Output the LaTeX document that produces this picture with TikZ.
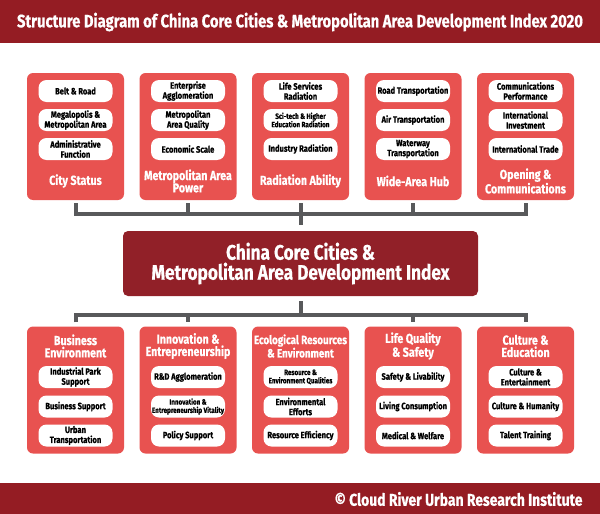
\documentclass[tikz,border=0pt]{standalone}
\usepackage{fontspec}
\setmainfont{Fira Sans}[FakeStretch=0.82, BoldFeatures={FakeBold=0.6}]
\usepackage{tikz}
\definecolor{bannerred}{RGB}{148,28,35}
\definecolor{corered}{RGB}{145,32,40}
\definecolor{boxred}{RGB}{232,82,80}
\definecolor{linkgray}{RGB}{88,89,91}
\tikzset{
  group/.style={rectangle, fill=boxred, minimum width=97pt, minimum height=127pt,
    rounded corners=6pt, inner sep=0pt},
  grouptitle/.style={text=white, align=center, inner sep=0pt,
    font=\bfseries\fontsize{13}{12.3}\selectfont},
  item/.style={rectangle, fill=white, minimum width=74pt, minimum height=22pt,
    rounded corners=8pt, align=center, inner sep=0pt,
    font=\bfseries\fontsize{9.2}{10}\selectfont},
  smallitem/.style={item, font=\bfseries\fontsize{7.7}{8.3}\selectfont},
  link/.style={draw=linkgray, line width=4pt}
}

\begin{document}
\begin{tikzpicture}[x=1pt, y=-1pt]
  \useasboundingbox (0,0) rectangle (600,514);

  % Header and footer bands
  \fill[bannerred] (0,0) rectangle (600,43);
  \node[text=white, font=\bfseries\fontsize{18}{18}\selectfont] (title) at (300,22)
    {Structure Diagram of China Core Cities \& Metropolitan Area Development Index 2020};
  \fill[bannerred] (0,483) rectangle (600,514);
  \node[text=white, anchor=east, font=\bfseries\fontsize{17}{17}\selectfont] (footer) at (586,499)
    {© Cloud River Urban Research Institute};

  % Central index
  \node[fill=corered, rounded corners=5pt, minimum width=355pt, minimum height=65pt,
    align=center, text=white, font=\bfseries\fontsize{21}{20}\selectfont] (core) at (300.5,263.5)
    {China Core Cities \&\\Metropolitan Area Development Index};

  % Upper groups
  \node[group] (status) at (75.5,136.5) {};
  \node[grouptitle] at (75.5,181) {City Status};
  \node[item] (status1) at (75.5,91) {Belt \& Road};
  \node[item] (status2) at (75.5,120) {Megalopolis \&\\Metropolitan Area};
  \node[item] (status3) at (75.5,149) {Administrative\\Function};

  \node[group] (power) at (188,136.5) {};
  \node[grouptitle] at (188,181) {Metropolitan Area\\Power};
  \node[item] (power1) at (188,91) {Enterprise\\Agglomeration};
  \node[item] (power2) at (188,120) {Metropolitan\\Area Quality};
  \node[item] (power3) at (188,149) {Economic Scale};

  \node[group] (radiation) at (300.5,136.5) {};
  \node[grouptitle] at (300.5,181) {Radiation Ability};
  \node[item] (radiation1) at (300.5,91) {Life Services\\Radiation};
  \node[smallitem] (radiation2) at (300.5,120) {Sci-tech \& Higher\\Education Radiation};
  \node[item] (radiation3) at (300.5,149) {Industry Radiation};

  \node[group] (hub) at (413,136.5) {};
  \node[grouptitle] at (413,181) {Wide-Area Hub};
  \node[item] (hub1) at (413,91) {Road Transportation};
  \node[item] (hub2) at (413,120) {Air Transportation};
  \node[item] (hub3) at (413,149) {Waterway\\Transportation};

  \node[group] (opening) at (525.5,136.5) {};
  \node[grouptitle] at (525.5,181) {Opening \&\\Communications};
  \node[item] (opening1) at (525.5,91) {Communications\\Performance};
  \node[item] (opening2) at (525.5,120) {International\\Investment};
  \node[item] (opening3) at (525.5,149) {International Trade};

  % Lower groups
  \node[group] (business) at (75.5,390) {};
  \node[grouptitle] at (75.5,346) {Business\\Environment};
  \node[item] (business1) at (75.5,377) {Industrial Park\\Support};
  \node[item] (business2) at (75.5,406.5) {Business Support};
  \node[item] (business3) at (75.5,435.5) {Urban\\Transportation};

  \node[group] (innovation) at (188,390) {};
  \node[grouptitle] at (188,346) {Innovation \&\\Entrepreneurship};
  \node[item] (innovation1) at (188,377) {R\&D Agglomeration};
  \node[smallitem] (innovation2) at (188,406.5) {Innovation \&\\Entrepreneurship Vitality};
  \node[item] (innovation3) at (188,435.5) {Policy Support};

  \node[group] (ecology) at (300.5,390) {};
  \node[grouptitle, font=\bfseries\fontsize{12}{12.3}\selectfont] at (300.5,346)
    {Ecological Resources\\\& Environment};
  \node[smallitem] (ecology1) at (300.5,377) {Resource \&\\Environment Qualities};
  \node[item] (ecology2) at (300.5,406.5) {Environmental\\Efforts};
  \node[item] (ecology3) at (300.5,435.5) {Resource Efficiency};

  \node[group] (life) at (413,390) {};
  \node[grouptitle] at (413,346) {Life Quality\\\& Safety};
  \node[item] (life1) at (413,377) {Safety \& Livability};
  \node[item] (life2) at (413,406.5) {Living Consumption};
  \node[item] (life3) at (413,435.5) {Medical \& Welfare};

  \node[group] (culture) at (525.5,390) {};
  \node[grouptitle] at (525.5,346) {Culture \&\\Education};
  \node[item] (culture1) at (525.5,377) {Culture \&\\Entertainment};
  \node[item] (culture2) at (525.5,406.5) {Culture \& Humanity};
  \node[item] (culture3) at (525.5,435.5) {Talent Training};

  % Upper bracket
  \coordinate (topbus) at (300.5,214);
  \draw[link, shorten <=3pt, shorten >=3pt] (status.south) -- (status.south |- topbus)
    -- (opening.south |- topbus) -- (opening.south);
  \draw[link, shorten <=3pt] (power.south) -- (power.south |- topbus);
  \draw[link, shorten <=3pt] (hub.south) -- (hub.south |- topbus);
  \draw[link, shorten <=3pt, shorten >=6pt] (radiation.south) -- (core.north);

  % Lower bracket
  \coordinate (botbus) at (300.5,315);
  \draw[link, shorten <=4pt, shorten >=4pt] (business.north) -- (business.north |- botbus)
    -- (culture.north |- botbus) -- (culture.north);
  \draw[link, shorten >=4pt] (innovation.north |- botbus) -- (innovation.north);
  \draw[link, shorten >=4pt] (life.north |- botbus) -- (life.north);
  \draw[link, shorten <=5pt, shorten >=9pt] (core.south) -- (ecology.north);
\end{tikzpicture}
\end{document}
